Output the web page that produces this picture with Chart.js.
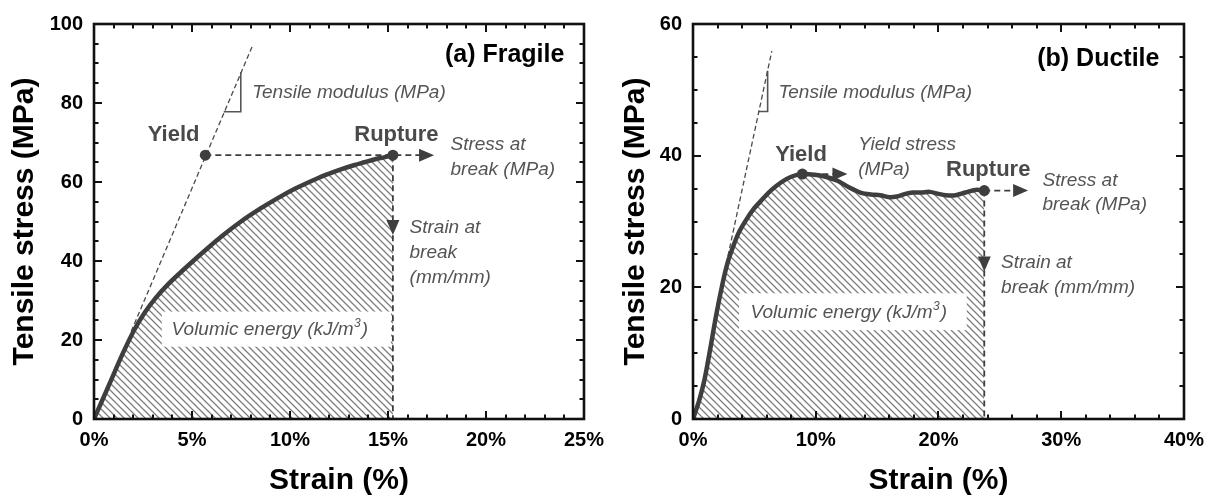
<!DOCTYPE html>
<html><head><meta charset="utf-8">
<script src="https://cdn.jsdelivr.net/npm/chart.js@4.4.1/dist/chart.umd.min.js"></script>
<style>
html,body{margin:0;padding:0;background:#fff;}
#wrap{position:relative;width:1213px;height:497px;overflow:hidden;background:#fff;}
canvas{position:absolute;top:0;}
#c1{left:0;} #c2{left:600px;}
</style></head><body>
<div id="wrap"><canvas id="c1" width="613" height="497"></canvas><canvas id="c2" width="613" height="497"></canvas></div>
<script>
// ---------- data ----------
const fragileStrain = [0, 0.4, 0.8, 1.47, 2.06, 2.6, 3.14, 3.8, 4.48, 5.1, 5.65, 6.5, 7.5, 8.5, 9.33, 10.3, 11.3, 12.0, 12.67, 13.3, 13.8, 14.3, 14.84, 15.25];
const fragileStress = [0, 4.5, 9.0, 16.6, 22.6, 27.0, 30.6, 34.2, 37.4, 40.2, 42.6, 46.2, 50.0, 53.3, 55.8, 58.4, 60.7, 62.1, 63.3, 64.3, 65.0, 65.7, 66.3, 66.8];
const ductileStrain = [0, 0.5, 0.94, 1.4, 1.87, 2.41, 2.8, 3.21, 3.7, 4.28, 4.9, 5.62, 6.4, 7.22, 8.0, 8.91, 9.9, 10.8, 11.77, 12.7, 13.64, 14.5, 15.25, 16.0, 16.6, 17.3, 17.9, 18.6, 19.3, 20.0, 20.6, 21.4, 22.2, 23.0, 23.73];
const ductileStress = [0, 2.8, 6.0, 10.6, 15.6, 20.6, 23.6, 25.9, 28.2, 30.1, 31.8, 33.3, 34.8, 36.0, 36.8, 37.2, 37.1, 36.8, 36.2, 35.2, 34.4, 34.1, 34.0, 33.7, 33.8, 34.2, 34.4, 34.4, 34.5, 34.2, 34.0, 34.0, 34.4, 34.8, 34.7];

const fragileYield = [5.68, 66.8];
const fragileRupture = [15.25, 66.8];
const ductileYield = [8.91, 37.2];
const ductileRupture = [23.73, 34.7];

// tangent (modulus) lines: [x0, y0, x1, y1]
const fragileTangent = [1.9, 22.2, 8.07, 94.3];
const ductileTangent = [2.3, 20.0, 6.42, 55.9];

const fragileXTicks = [0, 5, 10, 15, 20, 25];
const fragileYTicks = [0, 20, 40, 60, 80, 100];
const ductileXTicks = [0, 10, 20, 30, 40];
const ductileYTicks = [0, 20, 40, 60];

const xTitle = 'Strain (%)';
const yTitle = 'Tensile stress (MPa)';

// ---------- helpers ----------
const DARK = '#3e3e3e';
const TXT = '#545454';
const FONT = "'Liberation Sans', Arial, sans-serif";

function makeHatch(ctx){
  const s = 7;
  const c = document.createElement('canvas'); c.width = s; c.height = s;
  const g = c.getContext('2d');
  g.strokeStyle = '#7c7c7c'; g.lineWidth = 1.25;
  g.beginPath();
  g.moveTo(-1,-1); g.lineTo(s+1,s+1);
  g.moveTo(s-1,-1); g.lineTo(s+1,1);
  g.moveTo(-1,s-1); g.lineTo(1,s+1);
  g.stroke();
  return ctx.createPattern(c, 'repeat');
}

function pts(xs, ys){ return xs.map((x,i)=>({x:x, y:ys[i]})); }

const decorPlugin = {
  id: 'decor',
  beforeDatasetsDraw(chart){
    const o = chart.options.plugins.decor;
    const ctx = chart.ctx, sx = chart.scales.x, sy = chart.scales.y;
    const b = o.box;
    const x0 = sx.getPixelForValue(b.x0), x1 = sx.getPixelForValue(b.x1);
    const y0 = sy.getPixelForValue(b.y1), y1 = sy.getPixelForValue(b.y0);
    ctx.save();
    ctx.fillStyle = '#fff';
    ctx.fillRect(x0, y0, x1 - x0, y1 - y0);
    ctx.restore();
  },
  afterDatasetsDraw(chart){
    const o = chart.options.plugins.decor;
    const ctx = chart.ctx, sx = chart.scales.x, sy = chart.scales.y;
    const X = v => sx.getPixelForValue(v), Y = v => sy.getPixelForValue(v);
    ctx.save();
    ctx.fillStyle = DARK;
    o.arrows.forEach(a => {
      const tx = X(a.x), ty = Y(a.y);
      ctx.beginPath();
      if (a.dir === 'right') { ctx.moveTo(tx, ty); ctx.lineTo(tx - 15, ty - 6.5); ctx.lineTo(tx - 15, ty + 6.5); }
      else { ctx.moveTo(tx, ty); ctx.lineTo(tx - 6.5, ty - 15); ctx.lineTo(tx + 6.5, ty - 15); }
      ctx.closePath(); ctx.fill();
    });
    ctx.textBaseline = 'middle';
    o.texts.forEach(t => {
      ctx.font = t.font; ctx.fillStyle = t.color; ctx.textAlign = t.align;
      ctx.fillText(t.text, X(t.x), Y(t.y));
    });
    const b = o.box;
    ctx.font = "italic 19px " + FONT; ctx.fillStyle = TXT; ctx.textAlign = 'left';
    const bx = X(b.tx), by = Y(b.ty);
    const s1 = 'Volumic energy (kJ/m';
    ctx.fillText(s1, bx, by);
    let w = ctx.measureText(s1).width;
    ctx.font = "italic 12px " + FONT;
    ctx.fillText('3', bx + w + 0.5, by - 6);
    const w2 = ctx.measureText('3').width;
    ctx.font = "italic 19px " + FONT;
    ctx.fillText(')', bx + w + w2 + 1.5, by);
    ctx.restore();
  },
  afterDraw(chart){
    const o = chart.options.plugins.decor;
    const ctx = chart.ctx, a = chart.chartArea, sx = chart.scales.x, sy = chart.scales.y;
    ctx.save();
    ctx.strokeStyle = '#111'; ctx.lineWidth = 2;
    ctx.beginPath();
    for (let i = 1; i < o.xN; i++) {
      const p = Math.round(sx.getPixelForValue(o.xMin + i * o.xMinor));
      const L = (i % o.xEvery === 0) ? 8 : 4.5;
      ctx.moveTo(p, a.bottom); ctx.lineTo(p, a.bottom - L);
      ctx.moveTo(p, a.top); ctx.lineTo(p, a.top + L);
    }
    for (let i = 1; i < o.yN; i++) {
      const p = Math.round(sy.getPixelForValue(o.yMin + i * o.yMinor));
      const L = (i % o.yEvery === 0) ? 8 : 4.5;
      ctx.moveTo(a.left, p); ctx.lineTo(a.left + L, p);
      ctx.moveTo(a.right, p); ctx.lineTo(a.right - L, p);
    }
    ctx.stroke();
    ctx.lineWidth = 2.6;
    ctx.strokeRect(a.left, a.top, a.right - a.left, a.bottom - a.top);
    ctx.restore();
  }
};

function buildChart(id, p){
  const canvas = document.getElementById(id);
  const ctx = canvas.getContext('2d');
  const hatch = makeHatch(ctx);
  const datasets = [
    { data: [{x:p.yld[0], y:p.yld[1]}, {x:p.rup[0], y:p.rup[1]}], showLine:false, pointRadius:5.5, pointBackgroundColor:DARK, pointBorderWidth:0, fill:false },
    { data: pts(p.xs, p.ys), borderColor:DARK, borderWidth:4.5, pointRadius:0, tension:0.3, fill:'origin', backgroundColor:hatch, borderCapStyle:'round' },
    { data: [{x:p.tan[0], y:p.tan[1]}, {x:p.tan[2], y:p.tan[3]}], borderColor:'#4a4a4a', borderWidth:1.3, borderDash:[5,3], pointRadius:0, fill:false },
    { data: p.tri, borderColor:'#555', borderWidth:1.6, pointRadius:0, fill:false, tension:0 },
  ];
  p.dashes.forEach(d => datasets.push({ data: d, borderColor:DARK, borderWidth:1.8, borderDash:[6,4], pointRadius:0, fill:false }));
  return new Chart(ctx, {
    type: 'line',
    data: { datasets },
    plugins: [decorPlugin],
    options: {
      responsive:false, animation:false, devicePixelRatio:1,
      layout: { padding: { top:24, right:p.padRight, left:0, bottom:0 } },
      plugins: {
        legend:{display:false}, tooltip:{enabled:false},
        filler:{ drawTime:'beforeDatasetsDraw' },
        decor: p.decor
      },
      scales: {
        x: {
          type:'linear', min:p.xTicks[0], max:p.xTicks[p.xTicks.length-1],
          afterBuildTicks: s => { s.ticks = p.xTicks.map(v => ({value:v})); },
          afterFit: s => { s.height = 78; },
          grid:{display:false, drawTicks:false}, border:{display:false},
          ticks:{ callback: v => v + '%', font:{family:FONT, size:20, weight:'bold'}, color:'#000', padding:9, maxRotation:0, autoSkip:false },
          title:{ display:true, text:xTitle, font:{family:FONT, size:30, weight:'bold', lineHeight:1.1}, color:'#000', padding:{top:0, bottom:0} }
        },
        y: {
          type:'linear', min:p.yTicks[0], max:p.yTicks[p.yTicks.length-1],
          afterBuildTicks: s => { s.ticks = p.yTicks.map(v => ({value:v})); },
          afterFit: s => { s.width = p.yWidth; },
          grid:{display:false, drawTicks:false}, border:{display:false},
          ticks:{ font:{family:FONT, size:20, weight:'bold'}, color:'#000', padding:11, autoSkip:false },
          title:{ display:true, text:yTitle, font:{family:FONT, size:30, weight:'bold', lineHeight:1.1}, color:'#000', padding:{top:p.yTitlePad, bottom:0} }
        }
      }
    }
  });
}

const boldT = "bold 22px " + FONT;
const itT = "italic 19px " + FONT;

buildChart('c1', {
  xs: fragileStrain, ys: fragileStress, yld: fragileYield, rup: fragileRupture, tan: fragileTangent,
  tri: [{x:6.62, y:77.8}, {x:7.49, y:77.8}, {x:7.49, y:87.8}],
  dashes: [
    [{x:fragileYield[0], y:fragileYield[1]}, {x:16.9, y:fragileYield[1]}],
    [{x:fragileRupture[0], y:fragileRupture[1]}, {x:fragileRupture[0], y:0}]
  ],
  xTicks: fragileXTicks, yTicks: fragileYTicks,
  padRight: 20, yWidth: 94, yTitlePad: 8,
  decor: {
    xMin:0, xMinor:1, xN:25, xEvery:5, yMin:0, yMinor:5, yN:20, yEvery:4,
    box: { x0:3.46, x1:15.15, y0:18.3, y1:27.2, tx:3.96, ty:22.6 },
    arrows: [ {x:17.35, y:fragileYield[1], dir:'right'}, {x:fragileRupture[0], y:46.6, dir:'down'} ],
    texts: [
      {text:'Tensile modulus (MPa)', x:8.07, y:82.5, font:itT, color:TXT, align:'left'},
      {text:'Yield', x:4.06, y:71.9, font:boldT, color:'#4a4a4a', align:'center'},
      {text:'Rupture', x:15.43, y:71.9, font:boldT, color:'#4a4a4a', align:'center'},
      {text:'Stress at', x:18.19, y:69.4, font:itT, color:TXT, align:'left'},
      {text:'break (MPa)', x:18.19, y:63.0, font:itT, color:TXT, align:'left'},
      {text:'Strain at', x:16.1, y:48.4, font:itT, color:TXT, align:'left'},
      {text:'break', x:16.1, y:42.0, font:itT, color:TXT, align:'left'},
      {text:'(mm/mm)', x:16.1, y:35.7, font:itT, color:TXT, align:'left'},
      {text:'(a) Fragile', x:24.0, y:92.2, font:"bold 25px " + FONT, color:'#000', align:'right'}
    ]
  }
});

buildChart('c2', {
  xs: ductileStrain, ys: ductileStress, yld: ductileYield, rup: ductileRupture, tan: ductileTangent,
  tri: [{x:5.33, y:46.7}, {x:6.08, y:46.7}, {x:6.08, y:52.9}],
  dashes: [
    [{x:ductileYield[0], y:ductileYield[1]}, {x:12.2, y:ductileYield[1]}],
    [{x:ductileRupture[0], y:ductileRupture[1]}, {x:26.9, y:ductileRupture[1]}],
    [{x:ductileRupture[0], y:ductileRupture[1]}, {x:ductileRupture[0], y:0}]
  ],
  xTicks: ductileXTicks, yTicks: ductileYTicks,
  padRight: 21, yWidth: 93, yTitlePad: 19,
  decor: {
    xMin:0, xMinor:2, xN:20, xEvery:5, yMin:0, yMinor:5, yN:12, yEvery:4,
    box: { x0:3.75, x1:22.3, y0:13.5, y1:19.1, tx:4.69, ty:16.1 },
    arrows: [ {x:12.58, y:ductileYield[1], dir:'right'}, {x:27.3, y:ductileRupture[1], dir:'right'}, {x:ductileRupture[0], y:22.4, dir:'down'} ],
    texts: [
      {text:'Tensile modulus (MPa)', x:6.96, y:49.5, font:itT, color:TXT, align:'left'},
      {text:'Yield', x:8.8, y:40.1, font:boldT, color:'#4a4a4a', align:'center'},
      {text:'Yield stress', x:13.46, y:41.6, font:itT, color:TXT, align:'left'},
      {text:'(MPa)', x:13.46, y:37.8, font:itT, color:TXT, align:'left'},
      {text:'Rupture', x:24.05, y:37.8, font:boldT, color:'#4a4a4a', align:'center'},
      {text:'Stress at', x:28.47, y:36.15, font:itT, color:TXT, align:'left'},
      {text:'break (MPa)', x:28.47, y:32.5, font:itT, color:TXT, align:'left'},
      {text:'Strain at', x:25.1, y:23.7, font:itT, color:TXT, align:'left'},
      {text:'break (mm/mm)', x:25.1, y:19.9, font:itT, color:TXT, align:'left'},
      {text:'(b) Ductile', x:38.0, y:54.6, font:"bold 25px " + FONT, color:'#000', align:'right'}
    ]
  }
});
</script>
</body></html>
